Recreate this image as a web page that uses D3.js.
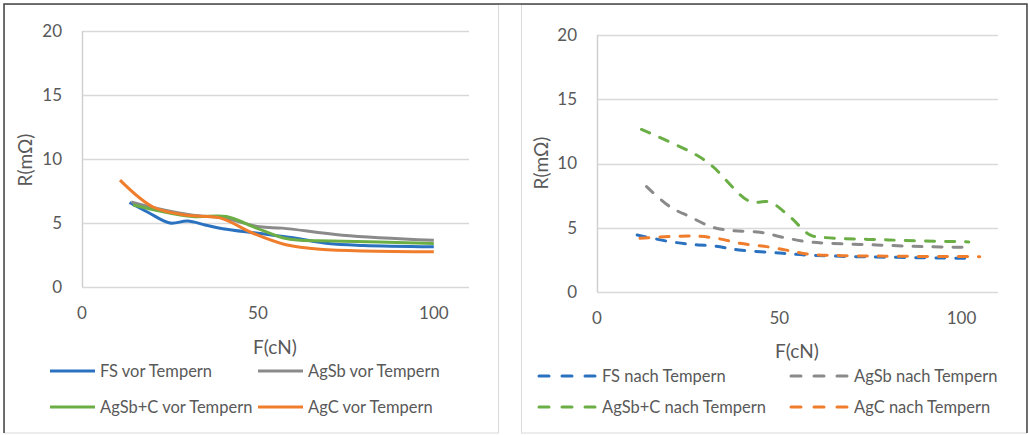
<!DOCTYPE html>
<html>
<head>
<meta charset="utf-8">
<script src="https://cdn.jsdelivr.net/npm/d3@7"></script>
<style>
  body { margin: 0; background: #fff; }
  svg { display: block; font-family: Lato, "Open Sans", sans-serif; }
</style>
</head>
<body>
<svg id="chart" width="1029" height="435"></svg>
<script>
// tick values
var xTicks = [0, 50, 100],
    yTicks = [0, 5, 10, 15, 20];

// vor Tempern (left)
var fsVorX = [13.5, 19, 25, 30, 35, 40, 50, 60, 70, 80, 100],
    fsVorY = [6.6, 5.8, 5.0, 5.15, 4.85, 4.55, 4.2, 3.85, 3.4, 3.25, 3.15];
var agsbVorX = [14, 21, 31.5, 40, 50.5, 57, 74, 100],
    agsbVorY = [6.65, 6.15, 5.6, 5.4, 4.7, 4.6, 4.05, 3.65];
var agsbcVorX = [14.5, 21, 31.5, 41, 49.6, 57, 62, 71, 100],
    agsbcVorY = [6.4, 6.0, 5.5, 5.5, 4.6, 3.85, 3.65, 3.6, 3.4];
var agcVorX = [10.8, 20.2, 29.8, 39.2, 48.6, 58, 67.6, 100],
    agcVorY = [8.35, 6.25, 5.6, 5.4, 4.2, 3.3, 2.95, 2.75];

// nach Tempern (right)
var fsNachX = [11, 19, 25.5, 32, 39, 51, 57.5, 71, 103],
    fsNachY = [4.44, 3.97, 3.71, 3.58, 3.27, 3.01, 2.88, 2.75, 2.62];
var agsbNachX = [13.6, 20, 25.5, 31.8, 37.3, 44.7, 51, 57.4, 63.8, 76.6, 89.4, 101.3],
    agsbNachY = [8.2, 6.64, 5.86, 5.03, 4.77, 4.65, 4.26, 3.92, 3.79, 3.66, 3.53, 3.48];
var agsbcNachX = [12.2, 27.3, 31.8, 41.9, 47.4, 52.9, 58.4, 62, 80, 102],
    agsbcNachY = [12.65, 10.66, 9.75, 7.05, 7.0, 5.86, 4.44, 4.25, 4.05, 3.9];
var agcNachX = [11.8, 26.3, 32.8, 39.2, 46.5, 52.9, 58.4, 67.4, 105],
    agcNachY = [4.18, 4.36, 4.18, 3.79, 3.53, 3.21, 2.93, 2.83, 2.75];

var blue = "#2a72c0", gray = "#8a8a8a", green = "#6aae45", orange = "#ef7d2c";

function zip(xs, ys) { return xs.map(function(d, i) { return [d, ys[i]]; }); }

var svg = d3.select("#chart");

// outer frame and panel borders
svg.append("rect").attr("x", 4.5).attr("y", 4.5).attr("width", 494).attr("height", 428.5)
    .attr("fill", "#fff").attr("stroke", "#d9d9d9");
svg.append("rect").attr("x", 521.5).attr("y", 4.5).attr("width", 505).attr("height", 428.5)
    .attr("fill", "#fff").attr("stroke", "#d9d9d9");
svg.append("path").attr("d", "M4,433V4H1027V433").attr("fill", "none")
    .attr("stroke", "#444").attr("stroke-width", 1.5);

function panel(cfg) {
  var x = d3.scaleLinear().domain([0, 110]).range([cfg.left, cfg.right]),
      y = d3.scaleLinear().domain([0, 20]).range([cfg.bottom, cfg.top]);

  var g = svg.append("g");

  // gridlines
  g.selectAll(".grid")
      .data(yTicks)
    .enter().append("line")
      .attr("x1", x(0)).attr("x2", x(110))
      .attr("y1", function(d) { return Math.round(y(d)) + 0.5; })
      .attr("y2", function(d) { return Math.round(y(d)) + 0.5; })
      .attr("stroke", "#d9d9d9").attr("stroke-width", 1.5);
  g.append("line")
      .attr("x1", Math.round(x(0)) + 0.5).attr("x2", Math.round(x(0)) + 0.5)
      .attr("y1", y(0)).attr("y2", y(20))
      .attr("stroke", "#d0d0d0").attr("stroke-width", 1.5);

  // y tick labels
  g.selectAll(".ylab")
      .data(yTicks)
    .enter().append("text")
      .attr("x", cfg.left - 20)
      .attr("y", function(d) { return y(d); })
      .attr("dy", "0.35em")
      .attr("text-anchor", "end")
      .attr("font-size", 17).attr("fill", "#595959")
      .text(function(d) { return d; });

  // x tick labels
  g.selectAll(".xlab")
      .data(xTicks)
    .enter().append("text")
      .attr("x", function(d) { return x(d); })
      .attr("y", cfg.bottom + 26)
      .attr("dy", "0.35em")
      .attr("text-anchor", "middle")
      .attr("font-size", 17).attr("fill", "#595959")
      .text(function(d) { return d; });

  // axis titles
  g.append("text")
      .attr("x", cfg.xTitleX).attr("y", cfg.xTitleY)
      .attr("dy", "0.35em").attr("text-anchor", "middle")
      .attr("font-size", 19).attr("fill", "#595959")
      .text("F(cN)");
  g.append("text")
      .attr("transform", "translate(" + cfg.yTitleX + "," + cfg.yTitleY + ") rotate(-90)")
      .attr("dy", "0.35em").attr("text-anchor", "middle")
      .attr("font-size", 19).attr("fill", "#595959")
      .text("R(m\u03a9)");

  var line = d3.line()
      .x(function(d) { return x(d[0]); })
      .y(function(d) { return y(d[1]); })
      .curve(d3.curveCatmullRom.alpha(0.5));

  cfg.series.forEach(function(s) {
    g.append("path")
        .attr("d", line(zip(s.xs, s.ys)))
        .attr("fill", "none")
        .attr("stroke", s.color)
        .attr("stroke-width", 3)
        .attr("stroke-dasharray", cfg.dash)
        .attr("stroke-linecap", cfg.dash ? "round" : "butt");
  });

  // legend
  cfg.series.forEach(function(s, i) {
    var col = i % 2, row = Math.floor(i / 2);
    var lx = cfg.legX[col], ly = cfg.legY[row];
    g.append("line")
        .attr("x1", lx).attr("x2", lx + cfg.legLen)
        .attr("y1", ly).attr("y2", ly)
        .attr("stroke", s.color).attr("stroke-width", 3)
        .attr("stroke-dasharray", cfg.legDash)
        .attr("stroke-linecap", cfg.dash ? "round" : "butt");
    g.append("text")
        .attr("x", lx + cfg.legLen + 5).attr("y", ly)
        .attr("dy", "0.35em")
        .attr("font-size", 16.5).attr("fill", "#595959")
        .text(s.name);
  });
}

panel({
  left: 82, right: 469, top: 31, bottom: 287,
  xTitleX: 275, xTitleY: 347, yTitleX: 25, yTitleY: 160,
  dash: null, legDash: null, legLen: 45,
  legX: [50, 258], legY: [371, 407],
  series: [
    {name: "FS vor Tempern", xs: fsVorX, ys: fsVorY, color: blue},
    {name: "AgSb vor Tempern", xs: agsbVorX, ys: agsbVorY, color: gray},
    {name: "AgSb+C vor Tempern", xs: agsbcVorX, ys: agsbcVorY, color: green},
    {name: "AgC vor Tempern", xs: agcVorX, ys: agcVorY, color: orange}
  ]
});

panel({
  left: 597, right: 998, top: 35, bottom: 292,
  xTitleX: 797, xTitleY: 351, yTitleX: 541, yTitleY: 163,
  dash: "9,11", legDash: "10,13", legLen: 58,
  legX: [539, 791], legY: [376, 407],
  series: [
    {name: "FS nach Tempern", xs: fsNachX, ys: fsNachY, color: blue},
    {name: "AgSb nach Tempern", xs: agsbNachX, ys: agsbNachY, color: gray},
    {name: "AgSb+C nach Tempern", xs: agsbcNachX, ys: agsbcNachY, color: green},
    {name: "AgC nach Tempern", xs: agcNachX, ys: agcNachY, color: orange}
  ]
});
</script>
</body>
</html>
